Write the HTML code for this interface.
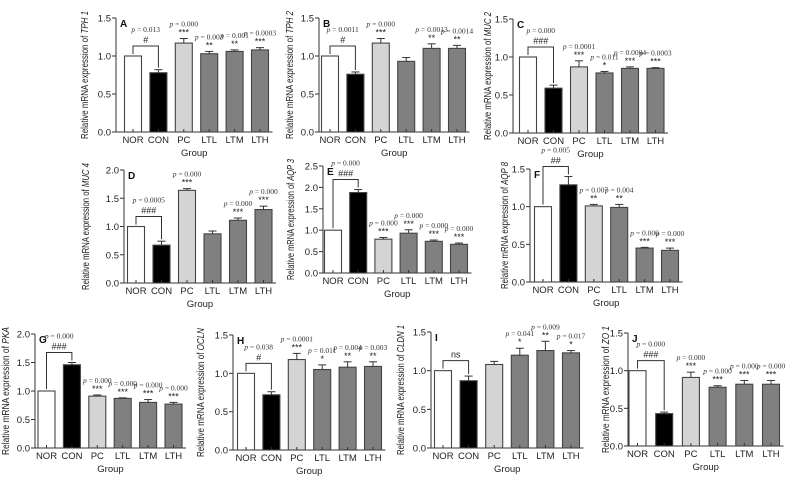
<!DOCTYPE html>
<html><head><meta charset="utf-8">
<style>
html,body{margin:0;padding:0;background:#fff;}
svg{display:block;}
text{font-family:"Liberation Sans",sans-serif;}
.pv{font-family:"Liberation Serif",serif;font-size:7.5px;fill:#333;}
</style></head>
<body>
<svg id="fig" width="796" height="480" viewBox="0 0 796 480" xmlns="http://www.w3.org/2000/svg"></svg>
<script>
const groups = ["NOR","CON","PC","LTL","LTM","LTH"];
const valsA = [1.0,0.78,1.17,1.03,1.06,1.08], errA = [0,0.04,0.06,0.03,0.02,0.03];
const valsB = [1.0,0.76,1.17,0.93,1.10,1.10], errB = [0,0.03,0.06,0.05,0.06,0.04];
const valsC = [1.0,0.59,0.87,0.79,0.85,0.85], errC = [0,0.04,0.08,0.02,0.02,0.01];
const valsD = [1.0,0.67,1.64,0.87,1.11,1.30], errD = [0,0.07,0.03,0.05,0.04,0.06];
const valsE = [1.0,1.88,0.79,0.93,0.74,0.67], errE = [0,0.07,0.04,0.08,0.03,0.03];
const valsF = [1.0,1.29,1.01,0.99,0.45,0.42], errF = [0,0.11,0.02,0.04,0.01,0.03];
const valsG = [1.0,1.46,0.91,0.87,0.80,0.77], errG = [0,0.04,0.02,0.01,0.05,0.03];
const valsH = [1.0,0.72,1.18,1.05,1.08,1.09], errH = [0,0.04,0.08,0.06,0.07,0.06];
const valsI = [1.0,0.87,1.08,1.20,1.26,1.23], errI = [0,0.06,0.04,0.09,0.12,0.03];
const valsJ = [1.0,0.43,0.91,0.78,0.82,0.82], errJ = [0,0.02,0.07,0.02,0.05,0.05];
const pA = ["","0.013","0.000","0.003","0.001","0.0003"], sA = ["","#","***","**","**","***"];
const pB = ["","0.0011","0.000","","0.0013","0.0014"], sB = ["","#","***","","**","**"];
const pC = ["","0.000","0.0001","0.011","0.0004","0.0003"], sC = ["","###","***","*","***","***"];
const pD = ["","0.0005","0.000","","0.000","0.000"], sD = ["","###","***","","***","***"];
const pE = ["","0.000","0.000","0.000","0.000","0.000"], sE = ["","###","***","***","***","***"];
const pF = ["","0.005","0.007","0.004","0.000","0.000"], sF = ["","##","**","**","***","***"];
const pG = ["","0.000","0.000","0.000","0.000","0.000"], sG = ["","###","***","***","***","***"];
const pH = ["","0.038","0.0001","0.011","0.004","0.003"], sH = ["","#","***","*","**","**"];
const pI = ["","","","0.041","0.009","0.017"], sI = ["","ns","","*","**","*"];
const pJ = ["","0.000","0.000","0.000","0.000","0.000"], sJ = ["","###","***","***","***","***"];
const ticksA = [0,0.5,1.0,1.5], ticks2 = [0,0.5,1.0,1.5,2.0], ticks25=[0,0.5,1.0,1.5,2.0,2.5];

const panels = [
 {id:"A",gene:"TPH 1",v:valsA,e:errA,p:pA,s:sA,ticks:ticksA,ax:116,y0:132,yt:18,n0:133,sp:25.4,tx:88},
 {id:"B",gene:"TPH 2",v:valsB,e:errB,p:pB,s:sB,ticks:ticksA,ax:319,y0:132,yt:18,n0:330,sp:25.4,tx:293},
 {id:"C",gene:"MUC 2",v:valsC,e:errC,p:pC,s:sC,ticks:ticksA,ax:513,y0:133,yt:19,n0:528,sp:25.5,tx:491},
 {id:"D",gene:"MUC 4",v:valsD,e:errD,p:pD,s:sD,ticks:ticks2,ax:124,y0:283,yt:170,n0:136,sp:25.5,tx:89},
 {id:"E",gene:"AQP 3",v:valsE,e:errE,p:pE,s:sE,ticks:ticks25,ax:323,y0:273,yt:166,n0:333,sp:25.2,tx:294},
 {id:"F",gene:"AQP 8",v:valsF,e:errF,p:pF,s:sF,ticks:ticksA,ax:530,y0:282,yt:169,n0:543,sp:25.4,tx:508},
 {id:"G",gene:"PKA",v:valsG,e:errG,p:pG,s:sG,ticks:ticks2,ax:35,y0:448,yt:334,n0:46.5,sp:25.4,tx:9},
 {id:"H",gene:"OCLN",v:valsH,e:errH,p:pH,s:sH,ticks:ticksA,ax:233,y0:450,yt:335,n0:246,sp:25.4,tx:204},
 {id:"I",gene:"CLDN 1",v:valsI,e:errI,p:pI,s:sI,ticks:ticksA,ax:431,y0:448,yt:332,n0:443,sp:25.6,tx:404},
 {id:"J",gene:"ZO 1",v:valsJ,e:errJ,p:pJ,s:sJ,ticks:ticksA,ax:628,y0:446,yt:333,n0:637.5,sp:26.7,tx:609}
];
const fills = ["#ffffff","#000000","#d4d4d4","#808080","#808080","#808080"];
const NS="http://www.w3.org/2000/svg";
const svg=document.getElementById("fig");
function mk(tag,attrs,parent,txt){const el=document.createElementNS(NS,tag);for(const k in attrs)el.setAttribute(k,attrs[k]);if(txt!==undefined)el.textContent=txt;parent.appendChild(el);return el;}

panels.forEach(P=>{
  const g=mk("g",{},svg);
  
  
  const ymax=P.ticks[P.ticks.length-1];
  const yS=v=>P.y0-(v/ymax)*(P.y0-P.yt);
  const xS=i=>P.n0+i*P.sp;
  const bw=17;
  const xEnd=xS(5)+bw/2+4;
  const ya=mk("line",{x1:P.ax,y1:P.yt,x2:P.ax,y2:P.y0,stroke:"#333","stroke-width":1},g);
  
  const xa=mk("line",{x1:P.ax,y1:P.y0,x2:xEnd,y2:P.y0,stroke:"#333","stroke-width":1},g);
  
  P.ticks.forEach(t=>{
    mk("line",{x1:P.ax-4,y1:yS(t),x2:P.ax,y2:yS(t),stroke:"#333","stroke-width":1},g);
    const tl=mk("text",{x:P.ax-5,y:yS(t)+3.5,"font-size":9.5,"text-anchor":"end",fill:"#222"},g,t.toFixed(1));
    
  });
  const lt=mk("text",{x:P.ax+4,y:P.yt+9,"font-size":10,"font-weight":"bold",fill:"#111"},g,P.id);
  
  const span=(P.y0-P.yt)+14;
  const yt=mk("text",{transform:`translate(${P.tx},${(P.y0+P.yt)/2}) rotate(-90)`,"font-size":10,"text-anchor":"middle",fill:"#222",textLength:span,lengthAdjust:"spacingAndGlyphs"},g);
  
  mk("tspan",{},yt,"Relative mRNA expression of ");
  mk("tspan",{"font-style":"italic"},yt,P.gene);
  const gt=mk("text",{x:(P.ax+xEnd)/2,y:P.y0+24,"font-size":9.5,"text-anchor":"middle",fill:"#222"},g,"Group");
  
  const tops=[];
  P.v.forEach((v,i)=>{
    const cx=xS(i);
    const bar=mk("rect",{x:cx-bw/2,y:yS(v),width:bw,height:P.y0-yS(v),fill:fills[i],stroke:"#444","stroke-width":1.1},g);
    
    
    const et=yS(v+P.e[i]);
    if(P.e[i]>0){
      mk("line",{x1:cx,y1:yS(v),x2:cx,y2:et,stroke:"#333","stroke-width":1},g);
      mk("line",{x1:cx-4,y1:et,x2:cx+4,y2:et,stroke:"#333","stroke-width":1},g);
    }
    tops.push(et);
    mk("line",{x1:cx,y1:P.y0,x2:cx,y2:P.y0-3,stroke:"#333","stroke-width":1},g);
    const xl=mk("text",{x:cx,y:P.y0+11,"font-size":9.5,"text-anchor":"middle",fill:"#222"},g,groups[i]);
    
    if(i>=2){
      if(P.s[i]){const st=mk("text",{x:cx,y:et-3,"font-size":9,"text-anchor":"middle",fill:"#222"},g,P.s[i]);
        }
      if(P.p[i]){const pt=mk("text",{x:cx,y:et-12,"text-anchor":"middle",class:"pv"},g);
        
        mk("tspan",{"font-style":"italic"},pt,"p");mk("tspan",{},pt," = "+P.p[i]);}
    }
  });
  const bt=Math.min(tops[0],tops[1])-10;
  const br=mk("path",{d:`M${xS(0)},${tops[0]-2} V${bt} H${xS(1)} V${tops[1]-2}`,fill:"none",stroke:"#333","stroke-width":1},g);
  
  const mx=(xS(0)+xS(1))/2;
  const sg=mk("text",{x:mx,y:bt-3,"font-size":9,"text-anchor":"middle",fill:"#222"},g,P.s[1]);
  
  if(P.p[1]){const pt=mk("text",{x:mx,y:bt-14,"text-anchor":"middle",class:"pv"},g);
    
    mk("tspan",{"font-style":"italic"},pt,"p");mk("tspan",{},pt," = "+P.p[1]);}
});
</script>
</body></html>
